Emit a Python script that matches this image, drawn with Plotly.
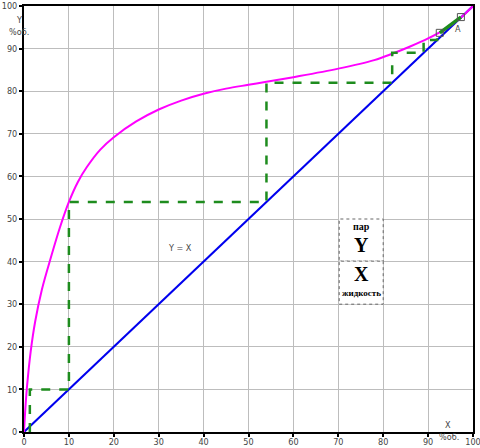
import plotly.graph_objects as go

# Equilibrium curve (vapour Y vs liquid X, % vol.)
curve_x = [0, 0.3, 0.7, 1.5, 2.5, 4, 6, 8, 10, 12, 14, 17, 20, 25, 30, 35, 40, 45, 50, 54, 60, 70, 78, 82, 86, 90, 94, 97, 100]
curve_y = [0, 5.5, 11, 19, 26, 33.5, 41, 48, 54, 58.7, 62.2, 66.3, 69.2, 72.9, 75.7, 77.8, 79.4, 80.6, 81.5, 82.2, 83.3, 85.3, 87.3, 88.8, 90.5, 92.4, 94.7, 97, 100]

# Diagonal Y = X
diag_x = [0, 100]
diag_y = [0, 100]

# Step construction (theoretical plates)
steps_x = [1.3, 1.3, 10, 10, 54, 54, 82, 82, 89, 89, 92, 92]
steps_y = [0, 10, 10, 54, 54, 82, 82, 89, 89, 92, 92, 93.7]

# Final solid segment to point A
final_x = [92.6, 97.3]
final_y = [93.7, 97.4]

ticks = [0, 10, 20, 30, 40, 50, 60, 70, 80, 90, 100]

fig = go.Figure()
fig.add_trace(go.Scatter(x=diag_x, y=diag_y, mode="lines",
                         line=dict(color="#0000ee", width=2), hoverinfo="skip"))
fig.add_trace(go.Scatter(x=curve_x, y=curve_y, mode="lines",
                         line=dict(color="#ff00ff", width=2, shape="spline", smoothing=1),
                         hoverinfo="skip"))
fig.add_trace(go.Scatter(x=steps_x, y=steps_y, mode="lines",
                         line=dict(color="#1e8c1e", width=2.5, dash="dash"), hoverinfo="skip"))
fig.add_trace(go.Scatter(x=final_x, y=final_y, mode="lines+markers",
                         line=dict(color="#1e8c1e", width=3.5),
                         marker=dict(symbol="square-open", size=7, color="#555555",
                                     line=dict(width=1, color="#555555")),
                         hoverinfo="skip"))

tickfont = dict(family="Liberation Sans Narrow, DejaVu Sans Condensed, Arial Narrow, sans-serif",
                size=9, color="#444444")
axis_common = dict(range=[0, 100], tickvals=ticks, showgrid=True, gridcolor="#bdbdbd", gridwidth=1,
                   showline=True, linecolor="black", linewidth=2, mirror=True,
                   ticks="outside", ticklen=3, tickwidth=2, tickcolor="black",
                   tickfont=tickfont, zeroline=False, fixedrange=True, automargin=False,
                   ticklabeloverflow="allow")

fig.update_layout(
    width=480, height=448,
    margin=dict(l=24, r=7, t=6, b=16),
    paper_bgcolor="white", plot_bgcolor="white",
    showlegend=False,
    xaxis=dict(**axis_common, ticklabelstandoff=-3),
    yaxis=dict(**axis_common),
)

# boxes for legend
fig.add_shape(type="rect", x0=70.2, x1=80, y0=40.1, y1=50, line=dict(color="#666666", width=1, dash="dot"),
              fillcolor="white", layer="above")
fig.add_shape(type="rect", x0=70.2, x1=80, y0=30, y1=40.1, line=dict(color="#666666", width=1, dash="dot"),
              fillcolor="white", layer="above")

serif = "Liberation Serif, DejaVu Serif, Times New Roman, serif"
label_font = dict(family="Liberation Sans Narrow, DejaVu Sans Condensed, sans-serif", size=9, color="#444444")
anns = [
    dict(x=75.1, y=48.2, text="<b>пар</b>", font=dict(family=serif, size=10, color="black")),
    dict(x=75.1, y=44.0, text="<b>Y</b>", font=dict(family=serif, size=20, color="black")),
    dict(x=75.1, y=37.0, text="<b>X</b>", font=dict(family=serif, size=20, color="black")),
    dict(x=75.1, y=32.6, text="<b>жидкость</b>", font=dict(family=serif, size=9, color="black")),
    dict(x=34.7, y=43.2, text="Y = X", font=label_font),
    dict(x=96.6, y=94.6, text="A", font=label_font),
    dict(x=94.4, y=1.6, text="X", font=label_font),
]
for a in anns:
    fig.add_annotation(xref="x", yref="y", showarrow=False, **a)

paper_anns = [
    dict(x=-0.011, y=0.967, text="Y"),
    dict(x=-0.011, y=0.939, text="%об."),
    dict(x=0.946, y=-0.012, text="%об."),
]
for a in paper_anns:
    fig.add_annotation(xref="paper", yref="paper", showarrow=False, font=label_font,
                       xanchor="center", yanchor="middle", **a)

fig.write_html("out.html", config={"displayModeBar": False},
               post_script="document.body.style.margin='0';document.body.style.overflow='hidden';")
